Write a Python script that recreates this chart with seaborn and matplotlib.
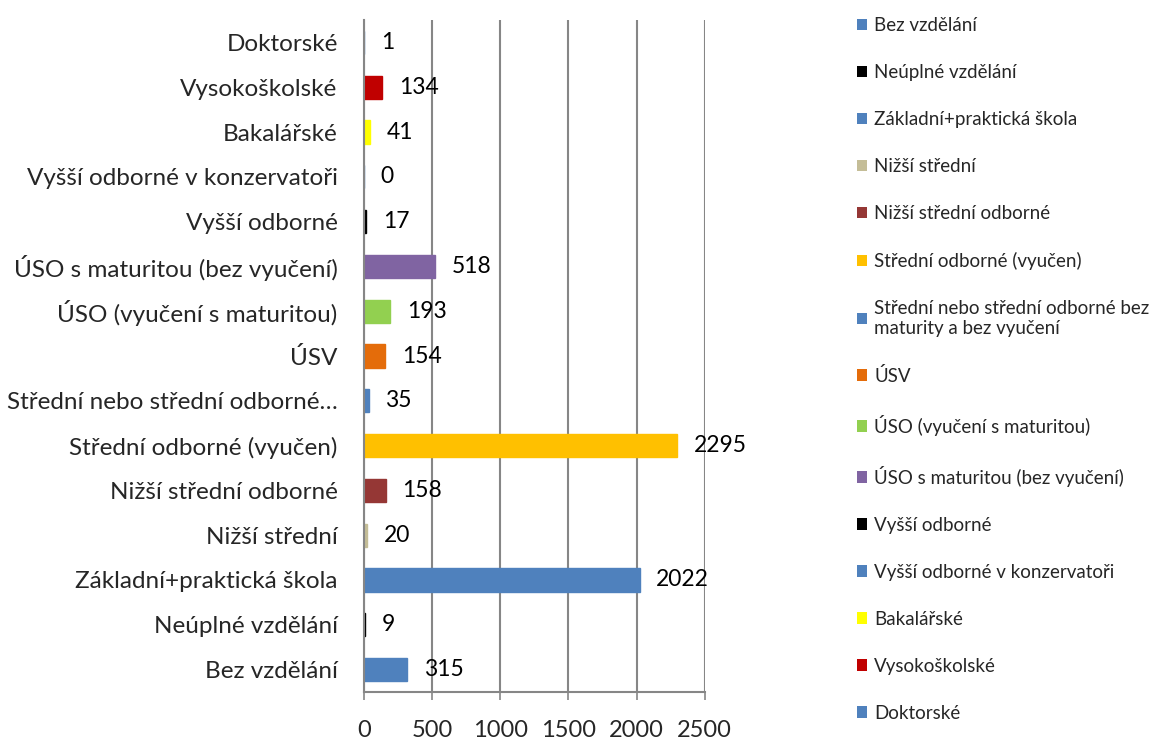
import matplotlib
matplotlib.use("Agg")
import matplotlib.pyplot as plt
from matplotlib.patches import Patch
from matplotlib.ticker import MultipleLocator
import seaborn as sns
import pandas as pd

# categories from bottom of the chart to the top
categories = [
    "Bez vzdělání", "Neúplné vzdělání", "Základní+praktická škola",
    "Nižší střední", "Nižší střední odborné", "Střední odborné (vyučen)",
    "Střední nebo střední odborné bez maturity a bez vyučení", "ÚSV",
    "ÚSO (vyučení s maturitou)", "ÚSO s maturitou (bez vyučení)",
    "Vyšší odborné", "Vyšší odborné v konzervatoři", "Bakalářské",
    "Vysokoškolské", "Doktorské",
]
tick_labels = categories.copy()
tick_labels[6] = "Střední nebo střední odborné…"
legend_labels = categories.copy()
legend_labels[6] = "Střední nebo střední odborné bez\nmaturity a bez vyučení"

counts = [315, 9, 2022, 20, 158, 2295, 35, 154, 193, 518, 17, 0, 41, 134, 1]

colors = ["#4F81BD", "#000000", "#4F81BD", "#C4BD97", "#953735", "#FFC000",
          "#4F81BD", "#E46C0A", "#92D050", "#8064A2", "#000000", "#4F81BD",
          "#FFFF00", "#C00000", "#4F81BD"]

df = pd.DataFrame({"kategorie": categories, "pocet": counts})
palette = dict(zip(categories, colors))

sns.set_style("white")
plt.rcParams["font.family"] = ["Lato", "DejaVu Sans"]

fig = plt.figure(figsize=(11.63, 7.42), dpi=100)
ax = fig.add_axes([0.313, 0.0674, 0.293, 0.9056])

sns.barplot(data=df, x="pocet", y="kategorie", hue="kategorie",
            order=categories[::-1], hue_order=categories, palette=palette,
            width=0.52, orient="h", legend=False, saturation=1, ax=ax)

for cont in ax.containers:
    cont[0].set_edgecolor(cont[0].get_facecolor())
    cont[0].set_linewidth(1)
    ax.bar_label(cont, padding=12, fontsize=16.5, color="black")

ax.set_xlim(0, 2500)
ax.set_ylim(14.5, -0.5)
ax.xaxis.set_major_locator(MultipleLocator(500))
ax.set_yticks(range(len(categories)))
ax.set_yticklabels(tick_labels[::-1], fontsize=17.5)
ax.set_yticks([i - 0.5 for i in range(len(categories) + 1)], minor=True)
ax.tick_params(axis="y", which="major", length=0, pad=19)
ax.tick_params(axis="y", which="minor", length=6, width=1.2, color="#868686", direction="out")
ax.tick_params(axis="x", length=6, width=1.2, color="#868686", direction="out",
               labelsize=17, pad=14, bottom=True)
ax.set_xlabel("")
ax.set_ylabel("")

ax.grid(axis="x", color="#868686", linewidth=1.5)
ax.set_axisbelow(True)
for side in ["top", "right"]:
    ax.spines[side].set_visible(False)
for side in ["left", "bottom"]:
    ax.spines[side].set_color("#868686")
    ax.spines[side].set_linewidth(1.5)

handles = [Patch(facecolor=c, edgecolor="none") for c in colors]
fig.legend(handles, legend_labels, loc="upper left", bbox_to_anchor=(0.722, 1.0),
           frameon=False, fontsize=13.5, labelspacing=1.6, handlelength=0.55,
           handleheight=0.55, handletextpad=0.4)

fig.savefig("out.png", dpi=100)
